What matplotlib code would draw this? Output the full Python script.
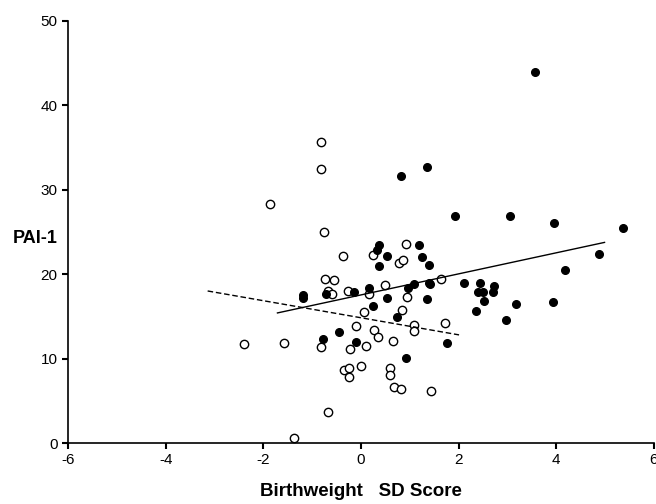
import matplotlib.pyplot as plt

plt.rcParams['font.family'] = ['Liberation Sans', 'DejaVu Sans']
plt.rcParams['axes.unicode_minus'] = False

# open circles
open_x = [-0.82, -0.82, -1.86, -0.76, -2.40, -1.58, -0.82, -1.37, -0.68, -0.74,
          -0.68, 0.92, -0.36, 0.25, 0.79, 0.87, -0.55, -0.59, -0.26, 0.50,
          0.16, 0.94, 1.65, 0.07, 0.84, -0.10, 0.26, 0.34, 0.65, 1.08,
          1.09, 1.72, -0.22, 0.10, -0.34, -0.24, -0.24, 0.00, 0.60, 0.60,
          0.68, 0.83, 1.43]
open_y = [35.6, 32.4, 28.3, 25.0, 11.7, 11.8, 11.4, 0.6, 3.7, 19.4,
          18.0, 23.6, 22.1, 22.2, 21.3, 21.7, 19.3, 17.6, 18.0, 18.7,
          17.7, 17.3, 19.4, 15.5, 15.7, 13.9, 13.4, 12.6, 12.1, 14.0,
          13.3, 14.2, 11.1, 11.5, 8.7, 8.9, 7.8, 9.1, 8.9, 8.0,
          6.6, 6.4, 6.1]

# filled circles
filled_x = [3.57, 0.82, 1.35, 1.92, 3.05, 3.96, 5.36, 0.36, 1.19, 0.33,
            0.53, 1.26, 0.38, 1.39, 4.88, 4.19, -1.19, -1.19, -0.72, -0.77,
            -0.14, 0.16, 0.53, 0.97, 1.08, 1.39, 1.42, 1.35, 2.12, 2.44,
            2.39, 2.51, 2.72, 2.71, 2.53, 2.36, 3.18, 3.93, 2.97, 1.76,
            0.24, 0.73, -0.44, -0.10, 0.92]
filled_y = [43.9, 31.6, 32.7, 26.9, 26.9, 26.0, 25.5, 23.4, 23.5, 22.9,
            22.1, 22.0, 21.0, 21.1, 22.4, 20.5, 17.5, 17.2, 17.6, 12.3,
            17.9, 18.3, 17.2, 18.4, 18.8, 19.0, 18.8, 17.1, 19.0, 19.0,
            17.9, 17.9, 18.6, 17.9, 16.8, 15.6, 16.4, 16.7, 14.6, 11.8,
            16.2, 14.9, 13.1, 12.0, 10.1]

# regression lines (end points)
solid_x = [-1.71, 4.99]
solid_y = [15.4, 23.75]
dashed_x = [-3.14, 2.01]
dashed_y = [18.0, 12.8]

fig = plt.figure(figsize=(6.56, 5.04), dpi=100)
ax = fig.add_axes([0.1037, 0.121, 0.893, 0.838])

ax.plot(open_x, open_y, 'o', mfc='white', mec='black', ms=6, mew=1.0, ls='none')
ax.plot(filled_x, filled_y, 'o', mfc='black', mec='black', ms=5.5, ls='none')
ax.plot(solid_x, solid_y, '-', color='black', lw=1.0)
ax.plot(dashed_x, dashed_y, '--', color='black', lw=1.0, dashes=(4, 2))

ax.set_xlim(-6, 6)
ax.set_ylim(0, 50)
ax.set_xticks([-6, -4, -2, 0, 2, 4, 6])
ax.set_yticks([0, 10, 20, 30, 40, 50])
ax.spines['top'].set_visible(False)
ax.spines['right'].set_visible(False)
ax.spines['left'].set_linewidth(1.2)
ax.spines['bottom'].set_linewidth(1.2)
ax.tick_params(direction='out', length=4, width=1.5, labelsize=11)

ax.set_xlabel('Birthweight   SD Score', fontsize=13.5, fontweight='bold', labelpad=11)
ax.set_ylabel('PAI-1', fontsize=13, fontweight='bold', rotation=0, va='center')
ax.yaxis.set_label_coords(-0.056, 0.485)

fig.savefig('out.png', dpi=100)
